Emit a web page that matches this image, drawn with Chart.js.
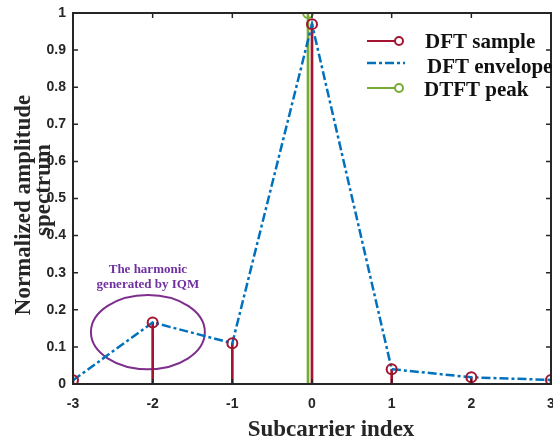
<!DOCTYPE html>
<html>
<head>
<meta charset="utf-8">
<script src="https://cdn.jsdelivr.net/npm/chart.js@4.4.1/dist/chart.umd.min.js"></script>
<style>
  html, body { margin: 0; padding: 0; background: #fff; }
</style>
</head>
<body>
<canvas id="myChart" width="553" height="437"></canvas>
<script>
// data
const subcarriers = [-3, -2, -1, 0, 1, 2, 3];
const dftSample = [0.010, 0.166, 0.110, 0.970, 0.040, 0.018, 0.011];
const dftEnvelope = [0.010, 0.166, 0.110, 0.970, 0.040, 0.018, 0.011];
const peakIndex = [-0.05];
const peakValue = [1.0];
const seriesNames = ['DFT sample', 'DFT envelope', 'DTFT peak'];
const noteLines = ['The harmonic', 'generated by IQM'];

const RED = '#A2142F', BLUE = '#0072BD', GREEN = '#77AC30', PURPLE = '#7E2F8E';
const AXIS = '#262626';
const SERIF = '"Liberation Serif", "Times New Roman", serif';
const SANS = '"Liberation Sans", Arial, sans-serif';
const DASHDOT = [9, 3, 3, 3];

// where the plot box sits in the original figure
const box = { left: 73, right: 551, top: 13, bottom: 384 };

// ellipse around the harmonic (data units)
const ring = { x: -2.06, y: 0.14, rx: 0.715, ry: 0.10 };

const toXY = (xs, ys) => xs.map((x, i) => ({ x: x, y: ys[i] }));

const figurePlugin = {
  id: 'figure',
  beforeDatasetsDraw(chart) {
    const { ctx, scales: { x, y } } = chart;
    ctx.save();
    const cx = x.getPixelForValue(ring.x), cy = y.getPixelForValue(ring.y);
    const rx = Math.abs(x.getPixelForValue(ring.x + ring.rx) - cx);
    const ry = Math.abs(y.getPixelForValue(ring.y + ring.ry) - cy);
    ctx.strokeStyle = PURPLE;
    ctx.lineWidth = 2;
    ctx.beginPath();
    ctx.ellipse(cx, cy, rx, ry, 0, 0, Math.PI * 2);
    ctx.stroke();

    ctx.fillStyle = '#7030A0';
    ctx.font = 'bold 13px ' + SERIF;
    ctx.textAlign = 'center';
    ctx.textBaseline = 'alphabetic';
    ctx.fillText(noteLines[0], cx, 273);
    ctx.fillText(noteLines[1], cx, 288);
    ctx.restore();
  },
  afterDraw(chart) {
    const { ctx, chartArea: a, scales: { x, y } } = chart;
    ctx.save();
    // box
    ctx.strokeStyle = AXIS;
    ctx.lineWidth = 2;
    ctx.strokeRect(a.left, a.top, a.right - a.left, a.bottom - a.top);
    // inward ticks
    ctx.lineWidth = 1.5;
    ctx.beginPath();
    x.ticks.forEach(t => {
      const px = x.getPixelForValue(t.value);
      ctx.moveTo(px, a.bottom); ctx.lineTo(px, a.bottom - 5);
      ctx.moveTo(px, a.top); ctx.lineTo(px, a.top + 5);
    });
    y.ticks.forEach(t => {
      const py = y.getPixelForValue(t.value);
      ctx.moveTo(a.left, py); ctx.lineTo(a.left + 5, py);
      ctx.moveTo(a.right, py); ctx.lineTo(a.right - 5, py);
    });
    ctx.stroke();

    // legend
    const items = [
      { color: RED, dash: [], marker: true, lineY: 41, textX: 425, textY: 48 },
      { color: BLUE, dash: DASHDOT, marker: false, lineY: 63, textX: 427, textY: 73 },
      { color: GREEN, dash: [], marker: true, lineY: 88, textX: 424, textY: 96 }
    ];
    items.forEach((it, i) => {
      ctx.strokeStyle = it.color;
      ctx.lineWidth = it.marker ? 2 : 2.5;
      ctx.setLineDash(it.dash);
      ctx.beginPath();
      ctx.moveTo(367, it.lineY);
      ctx.lineTo(it.marker ? 395 : 405, it.lineY);
      ctx.stroke();
      ctx.setLineDash([]);
      if (it.marker) {
        ctx.lineWidth = 2;
        ctx.beginPath();
        ctx.arc(399, it.lineY, 4, 0, Math.PI * 2);
        ctx.stroke();
      }
      ctx.fillStyle = '#111';
      ctx.font = 'bold 21px ' + SERIF;
      ctx.textAlign = 'left';
      ctx.textBaseline = 'alphabetic';
      ctx.fillText(seriesNames[i], it.textX, it.textY);
    });

    // axis titles
    ctx.fillStyle = AXIS;
    ctx.font = 'bold 23px ' + SERIF;
    ctx.textAlign = 'center';
    ctx.textBaseline = 'alphabetic';
    ctx.fillText('Subcarrier index', 331, 436);

    ctx.save();
    ctx.translate(24, 205);
    ctx.rotate(-Math.PI / 2);
    ctx.textBaseline = 'middle';
    ctx.fillText('Normalized amplitude', 0, 0);
    ctx.restore();
    ctx.save();
    ctx.translate(44, 190);
    ctx.rotate(-Math.PI / 2);
    ctx.textBaseline = 'middle';
    ctx.fillText('spectrum', 0, 0);
    ctx.restore();

    ctx.restore();
  }
};

const chart = new Chart(document.getElementById('myChart'), {
  type: 'scatter',
  data: {
    datasets: [
      {
        type: 'bar',
        label: seriesNames[0] + ' stems',
        data: toXY(subcarriers, dftSample),
        backgroundColor: RED,
        barThickness: 2,
        grouped: false,
        order: 3
      },
      {
        type: 'bar',
        label: seriesNames[2] + ' stem',
        data: toXY(peakIndex, peakValue),
        backgroundColor: GREEN,
        barThickness: 2,
        grouped: false,
        order: 3
      },
      {
        type: 'line',
        label: seriesNames[1],
        data: toXY(subcarriers, dftEnvelope),
        borderColor: BLUE,
        borderWidth: 2.5,
        borderDash: DASHDOT,
        pointRadius: 0,
        showLine: true,
        order: 2
      },
      {
        type: 'line',
        label: seriesNames[0],
        data: toXY(subcarriers, dftSample),
        showLine: false,
        pointRadius: 5,
        pointBorderWidth: 2,
        pointBorderColor: RED,
        pointBackgroundColor: 'rgba(0,0,0,0)',
        order: 1
      },
      {
        type: 'line',
        label: seriesNames[2],
        data: toXY(peakIndex, peakValue),
        showLine: false,
        pointRadius: 5,
        pointBorderWidth: 2,
        pointBorderColor: GREEN,
        pointBackgroundColor: 'rgba(0,0,0,0)',
        order: 1
      }
    ]
  },
  options: {
    responsive: false,
    animation: false,
    devicePixelRatio: 1,
    layout: { autoPadding: false, padding: { left: 0, right: 2, top: 13, bottom: 0 } },
    plugins: {
      legend: { display: false },
      tooltip: { enabled: false }
    },
    scales: {
      x: {
        type: 'linear',
        min: -3,
        max: 3,
        offset: false,
        grid: { display: false, drawTicks: false },
        border: { display: false },
        ticks: {
          stepSize: 1,
          padding: 12,
          color: AXIS,
          font: { family: SANS, weight: 'bold', size: 14 },
          maxRotation: 0
        },
        afterFit(s) { s.height = 53; s.paddingLeft = 0; s.paddingRight = 0; }
      },
      y: {
        min: 0,
        max: 1,
        grid: { display: false, drawTicks: false },
        border: { display: false },
        ticks: {
          stepSize: 0.1,
          padding: 7,
          color: AXIS,
          font: { family: SANS, weight: 'bold', size: 14 },
          callback: v => String(Math.round(v * 10) / 10)
        },
        afterFit(s) { s.width = 73; s.paddingTop = 0; s.paddingBottom = 0; }
      }
    }
  },
  plugins: [figurePlugin]
});

// nudge the padding until the plot box lands where it is in the figure
let pad = { left: 0, right: 2, top: 13, bottom: 0 };
try {
  for (let k = 0; k < 3; k++) {
    const a = chart.chartArea;
    pad = {
      left: pad.left + (box.left - a.left),
      right: pad.right + (a.right - box.right),
      top: pad.top + (box.top - a.top),
      bottom: pad.bottom + (a.bottom - box.bottom)
    };
    chart.config.options.layout.padding = pad;
    chart.update('none');
  }
} catch (e) {
  console.log(e);
}
</script>
</body>
</html>
